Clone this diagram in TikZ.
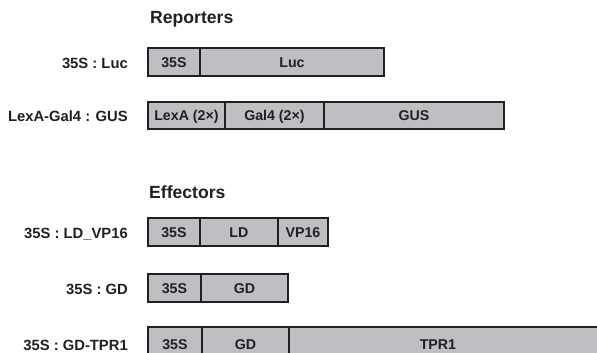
\documentclass[tikz,border=0pt]{standalone}
\usepackage{fontspec}
\setmainfont{Liberation Sans}
\definecolor{segfill}{RGB}{190,191,195}
\definecolor{ink}{RGB}{35,31,32}
\begin{document}
\begin{tikzpicture}[x=1pt,y=-1pt,
  seg/.style={draw=ink,fill=segfill,line width=1.9pt,minimum height=28pt,
    inner sep=0pt,anchor=west,text=ink,text height=10pt,text depth=0pt,
    font=\bfseries\fontsize{14.2}{16}\selectfont},
  lbl/.style={anchor=east,inner sep=0pt,text=ink,text height=10.4pt,text depth=0pt,
    font=\bfseries\fontsize{14.8}{17}\selectfont},
  head/.style={anchor=base west,inner sep=0pt,text=ink,
    font=\bfseries\fontsize{17.6}{20}\selectfont}]
\useasboundingbox (0,0) rectangle (597,353);
\clip (0,0) rectangle (597,353);

% headings
\node[head] (hrep) at (150,24) {Reporters};
\node[head] (heff) at (149,198) {Effectors};

% row 1: 35S : Luc
\node[lbl] (l1) at (128,63) {35S : Luc};
\node[seg,minimum width=52pt] (r1a) at (147,62) {35S};
\node[seg,minimum width=184pt] (r1b) at (199,62) {Luc};

% row 2: LexA-Gal4 : GUS
\node[lbl] (l2) at (128,116.5) {LexA-Gal4 : GUS};
\node[seg,minimum width=77pt,minimum height=27pt] (r2a) at (147,115.5) {LexA (2×)};
\node[seg,minimum width=99pt,minimum height=27pt] (r2b) at (224,115.5) {Gal4 (2×)};
\node[seg,minimum width=180pt,minimum height=27pt] (r2c) at (323,115.5) {GUS};

% row 3: 35S : LD_VP16
\node[lbl] (l3) at (128,233) {35S : LD\_VP16};
\node[seg,minimum width=52pt] (r3a) at (147,232) {35S};
\node[seg,minimum width=78pt] (r3b) at (199,232) {LD};
\node[seg,minimum width=50pt] (r3c) at (277,232) {VP16};

% row 4: 35S : GD
\node[lbl] (l4) at (128,289) {35S : GD};
\node[seg,minimum width=53pt] (r4a) at (147,288) {35S};
\node[seg,minimum width=87pt] (r4b) at (200,288) {GD};

% row 5: 35S : GD-TPR1 (runs off the picture)
\node[lbl] (l5) at (128,345) {35S : GD-TPR1};
\node[seg,minimum width=54pt,minimum height=34pt] (r5a) at (147,344) {35S};
\node[seg,minimum width=87pt,minimum height=34pt] (r5b) at (201,344) {GD};
\node[seg,minimum width=320pt,minimum height=34pt] (r5c) at (288,344) {TPR1\hspace*{22pt}};
\end{tikzpicture}
\end{document}
